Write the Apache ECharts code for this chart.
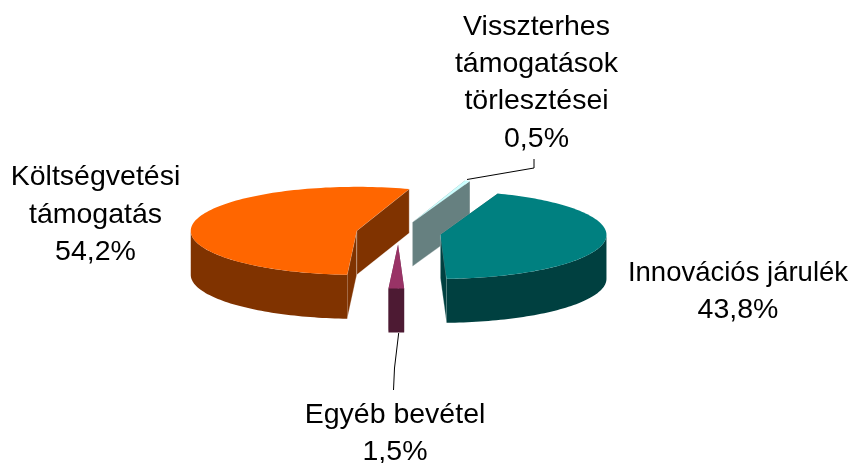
<!DOCTYPE html>
<html>
<head>
<meta charset="utf-8">
<style>html,body{margin:0;padding:0;background:#fff}#c{width:852px;height:463px}</style>
<script src="https://cdn.jsdelivr.net/npm/echarts@6/dist/echarts.min.js"></script>
</head>
<body>
<div id="c"></div>
<script>
// Data, clockwise from the drawing start angle (back-to-front paint order)
const categories = ['Költségvetési támogatás', 'Visszterhes támogatások törlesztései', 'Innovációs járulék', 'Egyéb bevétel'];
const values = [54.2, 0.5, 43.8, 1.5];
const valueLabels = ['54,2%', '0,5%', '43,8%', '1,5%'];
const labelLines = [
  ['Költségvetési', 'támogatás'],
  ['Visszterhes', 'támogatások', 'törlesztései'],
  ['Innovációs járulék'],
  ['Egyéb bevétel']
];
const topColors = ['#FF6600', '#CCFFFF', '#008080', '#993366'];
const wallColors = ['#803300', '#668080', '#004040', '#4D1A33'];

// Layout
const cx = 398.5, cy = 233, rx = 166, ry = 44, depth = 44, explode = 42.5, squash = 0.27;
const startAngle = 183.3;
const labelPos = [[95.5, 177.5], [536.5, 27], [738, 273], [395, 415]];
const fontSize = 28.5, lineH = 37.3;
const lineFontOverride = { 'Innovációs járulék': 27.5 };
const leaders = [null, [[467, 179.5], [534, 168], [534, 159]], null, [[398.7, 333], [394.5, 368], [393.5, 390]]];

const total = values.reduce((a, b) => a + b, 0);
const rad = d => d * Math.PI / 180;
const pt = (ox, oy, a, dz) => [ox + rx * Math.sin(rad(a)), oy - ry * Math.cos(rad(a)) + (dz || 0)];

function renderSlice(params, api) {
  const i = params.dataIndex;
  const v = api.value(0);
  let before = 0;
  for (let k = 0; k < i; k++) before += values[k];
  const a0 = startAngle + before / total * 360;
  const a1 = a0 + v / total * 360;
  const mid = rad((a0 + a1) / 2);
  const ox = cx + explode * Math.sin(mid);
  const oy = cy - explode * squash * Math.cos(mid);
  const ch = [];
  const wall = pts => ({ type: 'polygon', shape: { points: pts }, style: { fill: wallColors[i], stroke: 'rgba(255,255,255,0.28)', lineWidth: 1 } });
  // cut walls
  [a0, a1].forEach(a => {
    const p = pt(ox, oy, a);
    ch.push(wall([[ox, oy], p, [p[0], p[1] + depth], [ox, oy + depth]]));
  });
  // outer rim wall (front half only)
  const seg = [];
  for (const [s, e] of [[90, 270], [450, 630]]) {
    const f = Math.max(a0, s), t = Math.min(a1, e);
    if (f < t) seg.push([f, t]);
  }
  seg.forEach(([f, t]) => {
    const up = [], down = [];
    for (let n = 0; n <= 60; n++) {
      const a = f + (t - f) * n / 60;
      up.push(pt(ox, oy, a));
      down.unshift(pt(ox, oy, a, depth));
    }
    ch.push({ type: 'polygon', shape: { points: up.concat(down) }, style: { fill: wallColors[i] } });
  });
  // top face
  const top = [[ox, oy]];
  for (let n = 0; n <= 120; n++) top.push(pt(ox, oy, a0 + (a1 - a0) * n / 120));
  ch.push({ type: 'polygon', shape: { points: top }, style: { fill: topColors[i] } });
  // leader
  if (leaders[i]) ch.push({ type: 'polyline', shape: { points: leaders[i] }, style: { fill: null, stroke: '#000', lineWidth: 1 } });
  // label, one text per line
  labelLines[i].concat(valueLabels[i]).forEach((line, n) => {
    ch.push({
      type: 'text', z2: 10,
      style: {
        text: line,
        x: labelPos[i][0], y: labelPos[i][1] + n * lineH,
        align: 'center', verticalAlign: 'middle',
        font: (lineFontOverride[line] || fontSize) + 'px "Liberation Sans", Arial, sans-serif',
        fill: '#000'
      }
    });
  });
  return { type: 'group', children: ch };
}

const chart = echarts.init(document.getElementById('c'), null, { renderer: 'canvas' });
chart.setOption({
  animation: false,
  backgroundColor: '#fff',
  series: [{
    type: 'custom',
    coordinateSystem: 'none',
    renderItem: renderSlice,
    silent: true,
    data: values.map((v, i) => ({ name: categories[i], value: [v] }))
  }]
});
</script>
</body>
</html>
